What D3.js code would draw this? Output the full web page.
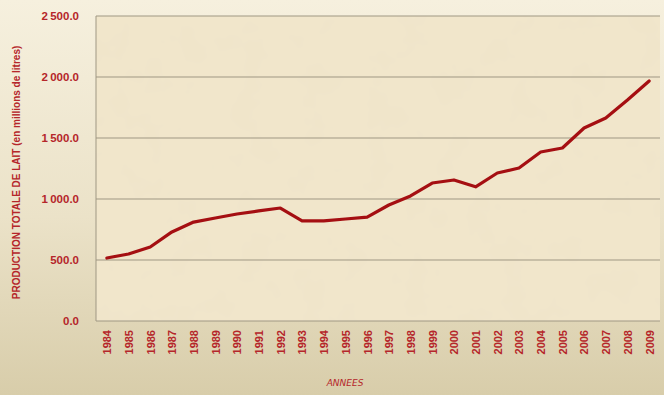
<!DOCTYPE html>
<html>
<head>
<meta charset="utf-8">
<script src="https://cdn.jsdelivr.net/npm/d3@7"></script>
<style>
  body { margin: 0; padding: 0; overflow: hidden; }
  svg { display: block; }
</style>
</head>
<body>
<svg id="chart" width="664" height="395"></svg>
<script>
// annees et production (millions de litres)
var years = ["1984","1985","1986","1987","1988","1989","1990","1991","1992","1993","1994","1995","1996",
             "1997","1998","1999","2000","2001","2002","2003","2004","2005","2006","2007","2008","2009"];
var production = [516, 549, 607, 730, 811, 844, 877, 902, 926, 820, 820, 836, 852,
                  951, 1025, 1131, 1156, 1100, 1213, 1254, 1385, 1418, 1582, 1664, 1811, 1967];
var yTicks = [0, 500, 1000, 1500, 2000, 2500];

var svg = d3.select("#chart");
var width = +svg.attr("width"),
    height = +svg.attr("height");
var margin = {top: 16, right: 4, bottom: 74, left: 96};
var red = "#b5262a";

var defs = svg.append("defs");
var bg = defs.append("linearGradient").attr("id", "bg").attr("x1", 0).attr("y1", 0).attr("x2", 0).attr("y2", 1);
bg.append("stop").attr("offset", "0%").attr("stop-color", "#f6f0de");
bg.append("stop").attr("offset", "55%").attr("stop-color", "#ebe2c8");
bg.append("stop").attr("offset", "100%").attr("stop-color", "#d8cdaa");

// parchemin : bruit leger
var f = defs.append("filter").attr("id", "paper").attr("x", 0).attr("y", 0).attr("width", 1).attr("height", 1);
f.append("feTurbulence").attr("type", "fractalNoise").attr("baseFrequency", "0.03").attr("numOctaves", 3).attr("seed", 4).attr("result", "noise");
f.append("feColorMatrix").attr("in", "noise").attr("type", "matrix")
  .attr("values", "0 0 0 0 0.86  0 0 0 0 0.76  0 0 0 0 0.58  0 0 0 0.45 -0.12")
  .attr("result", "tint");
f.append("feComposite").attr("in", "tint").attr("in2", "SourceGraphic").attr("operator", "over");

svg.append("rect").attr("width", width).attr("height", height).attr("fill", "url(#bg)");

var x = d3.scalePoint().domain(years)
  .range([margin.left, width - margin.right]).padding(0.5);
var y = d3.scaleLinear().domain([0, 2500])
  .range([height - margin.bottom, margin.top]);

var plotW = width - margin.left - margin.right,
    plotH = height - margin.top - margin.bottom;

svg.append("rect")
  .attr("x", margin.left).attr("y", margin.top)
  .attr("width", plotW).attr("height", plotH)
  .attr("fill", "#f1e6cb")
  .attr("filter", "url(#paper)");

// grille
svg.append("g")
  .selectAll("line")
  .data(yTicks)
  .enter().append("line")
    .attr("x1", margin.left).attr("x2", width - margin.right)
    .attr("y1", function(d) { return y(d); })
    .attr("y2", function(d) { return y(d); })
    .attr("stroke", "#9f9783")
    .attr("stroke-width", 1);

svg.append("line")
  .attr("x1", margin.left).attr("x2", margin.left)
  .attr("y1", margin.top).attr("y2", height - margin.bottom)
  .attr("stroke", "#9f9783");

// axe y
var yAxis = svg.append("g")
  .attr("transform", "translate(" + (margin.left - 14) + ",0)")
  .call(d3.axisLeft(y).tickValues(yTicks).tickSize(0)
    .tickFormat(function(d) { return d3.format(",.1f")(d).replace(",", "\u2009"); }));
yAxis.select(".domain").remove();
yAxis.selectAll("text")
  .attr("fill", red)
  .style("font", "bold 11.5px 'Liberation Sans', Arial, sans-serif");

// axe x
var xAxis = svg.append("g")
  .attr("transform", "translate(0," + (height - margin.bottom) + ")")
  .call(d3.axisBottom(x).tickSize(0));
xAxis.select(".domain").remove();
xAxis.selectAll("text")
  .attr("fill", red)
  .style("font", "bold 11px 'Liberation Sans', Arial, sans-serif")
  .attr("transform", "rotate(-90)")
  .attr("text-anchor", "end")
  .attr("x", -9)
  .attr("y", 0)
  .attr("dy", "0.35em");

// ligne
var line = d3.line()
  .x(function(d, i) { return x(years[i]); })
  .y(function(d) { return y(d); });

svg.append("path")
  .datum(production)
  .attr("fill", "none")
  .attr("stroke", "#a50f12")
  .attr("stroke-width", 3.2)
  .attr("stroke-linejoin", "round")
  .attr("stroke-linecap", "round")
  .attr("d", line);

// titres
svg.append("text")
  .attr("transform", "translate(20," + (margin.top + plotH / 2 + 4) + ") rotate(-90)")
  .attr("text-anchor", "middle")
  .attr("fill", red)
  .style("font", "bold 10px 'Liberation Sans', Arial, sans-serif")
  .text("PRODUCTION TOTALE DE LAIT (en millions de litres)");

svg.append("text")
  .attr("x", 345).attr("y", 386)
  .attr("text-anchor", "middle")
  .attr("fill", red)
  .style("font", "italic 9px 'DejaVu Sans', sans-serif")
  .text("ANNEES");
</script>
</body>
</html>
